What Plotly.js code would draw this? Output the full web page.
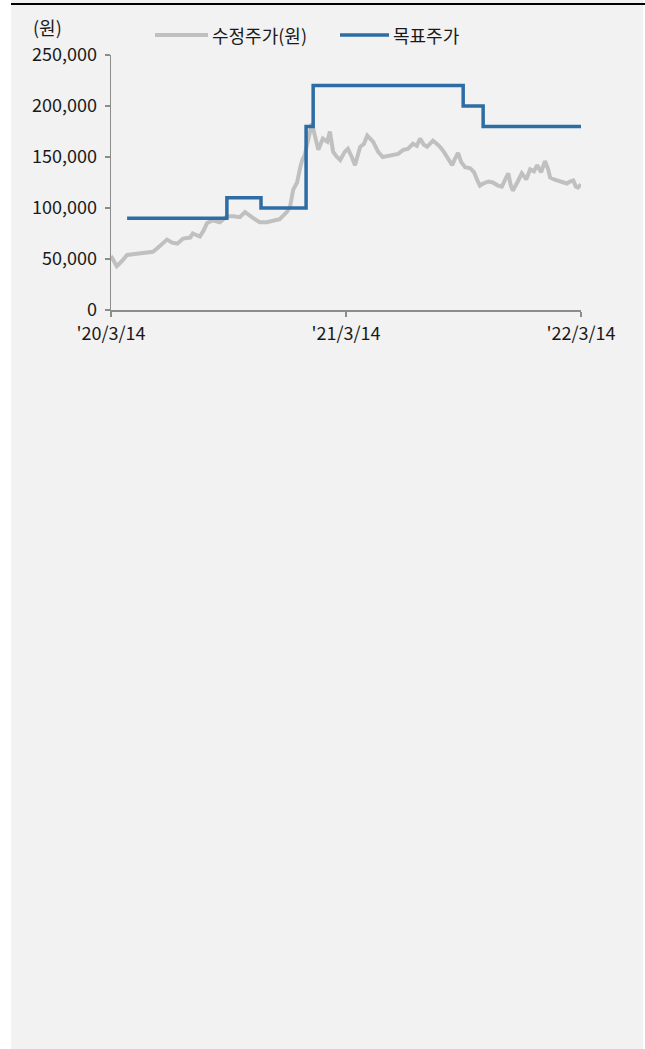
<!DOCTYPE html>
<html>
<head>
<meta charset="utf-8">
<script src="https://cdn.plot.ly/plotly-3.0.1.min.js"></script>
<style>html,body{margin:0;padding:0;background:#fff;}#chart{width:645px;height:1049px;}</style>
</head>
<body>
<div id="chart"></div>
<script>
// 수정주가(원)
const priceDates = ['2020-03-14','2020-03-23','2020-03-31','2020-04-08','2020-04-20','2020-05-06','2020-05-18','2020-05-24','2020-06-01','2020-06-09','2020-06-17','2020-06-25','2020-07-04','2020-07-15','2020-07-19','2020-07-30','2020-08-05','2020-08-10','2020-08-19','2020-08-30','2020-09-10','2020-09-20','2020-09-30','2020-10-08','2020-10-21','2020-10-31','2020-11-11','2020-11-21','2020-12-01','2020-12-12','2020-12-17','2020-12-22','2020-12-28','2021-01-02','2021-01-05','2021-01-09','2021-01-14','2021-01-20','2021-01-25','2021-01-30','2021-02-06','2021-02-13','2021-02-17','2021-02-22','2021-02-28','2021-03-05','2021-03-12','2021-03-17','2021-03-23','2021-03-28','2021-04-05','2021-04-11','2021-04-16','2021-04-20','2021-04-25','2021-05-03','2021-05-10','2021-05-18','2021-05-26','2021-06-03','2021-06-11','2021-06-18','2021-06-26','2021-07-02','2021-07-07','2021-07-13','2021-07-18','2021-07-27','2021-08-02','2021-08-07','2021-08-13','2021-08-18','2021-08-23','2021-08-26','2021-08-30','2021-09-04','2021-09-09','2021-09-15','2021-09-23','2021-09-29','2021-10-04','2021-10-08','2021-10-13','2021-10-21','2021-10-28','2021-11-05','2021-11-11','2021-11-16','2021-11-21','2021-11-25','2021-11-28','2021-12-05','2021-12-12','2021-12-19','2021-12-25','2021-12-31','2022-01-05','2022-01-11','2022-01-17','2022-01-22','2022-01-25','2022-01-31','2022-02-06','2022-02-12','2022-02-20','2022-02-25','2022-03-02','2022-03-06','2022-03-09','2022-03-14'];
const priceValues = [53000,43000,48000,54000,55000,56000,57000,60000,64000,69000,66000,65000,70000,71000,75000,72000,78000,85000,88000,86000,92000,92000,91000,96000,90000,86000,86000,88000,89000,96000,101000,118000,125000,140000,147000,152000,165000,183000,170000,157000,168000,165000,175000,155000,150000,147000,155000,158000,150000,142000,160000,163000,171000,168000,165000,155000,150000,151000,152000,153000,157000,158000,163000,161000,168000,162000,160000,166000,163000,160000,155000,150000,145000,142000,148000,154000,145000,140000,139000,135000,127000,122000,124000,126000,125000,122000,121000,128000,134000,122000,117000,125000,134000,128000,138000,136000,142000,135000,146000,138000,130000,128000,127000,126000,124000,126000,127000,121000,120000,123000];

// 목표주가
const targetDates = ['2020-04-08','2020-09-10','2020-11-02','2021-01-11','2021-01-22','2021-09-12','2021-10-13','2022-03-14'];
const targetValues = [90000,110000,100000,180000,220000,200000,180000,180000];

const tickDates = ['2020-03-14','2021-03-14','2022-03-14'];
const tickLabels = ["'20/3/14","'21/3/14","'22/3/14"];
const yTicks = [0,50000,100000,150000,200000,250000];
const seriesNames = ['수정주가(원)','목표주가'];
const seriesColors = ['#c0c0c0','#2e6ca4'];

const FONT = '"Noto Sans CJK KR","Noto Sans",sans-serif';
const FS = 18;
const TXT = '#1a1a1a';

const traces = [
  {x: priceDates, y: priceValues, type:'scatter', mode:'lines', name:seriesNames[0],
   line:{color:seriesColors[0], width:4}},
  {x: targetDates, y: targetValues, type:'scatter', mode:'lines', name:seriesNames[1],
   line:{color:seriesColors[1], width:3.5, shape:'hv'}}
];

const L = 111, R = 581, T = 55, B = 310;
const W = R - L, H = B - T;
const px = v => (v - L) / W;
const py = v => (B - v) / H;

const legY = 35;
const legendItems = [
  {x0:155, x1:208, tx:212, w:4},
  {x0:340, x1:389, tx:393, w:3.5}
];

const shapes = [
  {type:'rect', xref:'paper', yref:'paper', x0:px(0), x1:px(11), y0:py(1049), y1:py(0),
   fillcolor:'#ffffff', line:{width:0}, layer:'below'},
  {type:'rect', xref:'paper', yref:'paper', x0:px(643), x1:px(645), y0:py(1049), y1:py(0),
   fillcolor:'#ffffff', line:{width:0}, layer:'below'},
  {type:'rect', xref:'paper', yref:'paper', x0:px(11), x1:px(645), y0:py(5), y1:py(3),
   fillcolor:'#000000', line:{width:0}, layer:'above'}
];
const annotations = [
  {xref:'paper', yref:'paper', x:px(47), y:py(27), text:'(원)', showarrow:false,
   font:{family:FONT, size:FS, color:TXT}, xanchor:'center', yanchor:'middle'}
];
legendItems.forEach((it, i) => {
  shapes.push({type:'line', xref:'paper', yref:'paper', x0:px(it.x0), x1:px(it.x1), y0:py(legY), y1:py(legY),
               line:{color:seriesColors[i], width:it.w}, layer:'above'});
  annotations.push({xref:'paper', yref:'paper', x:px(it.tx), y:py(legY), text:seriesNames[i], showarrow:false,
                    font:{family:FONT, size:FS, color:TXT}, xanchor:'left', yanchor:'middle', xshift:-2});
});

const layout = {
  width:645, height:1049,
  margin:{l:L, r:645-R, t:T, b:1049-B, pad:0},
  paper_bgcolor:'#f2f2f2', plot_bgcolor:'#f2f2f2',
  font:{family:FONT, size:FS, color:TXT},
  showlegend:false,
  xaxis:{type:'date', range:['2020-03-14','2022-03-14'], tickvals:tickDates, ticktext:tickLabels,
         showgrid:false, zeroline:false, showline:true, linecolor:'#8c8c8c', linewidth:1.5,
         ticks:'outside', ticklen:5, tickcolor:'#8c8c8c', tickwidth:1.5, ticklabelstandoff:2,
         tickfont:{family:FONT, size:FS, color:TXT}, fixedrange:true},
  yaxis:{range:[0,250000], tickvals:yTicks, tickformat:',', showgrid:false, zeroline:false,
         showline:true, linecolor:'#8c8c8c', linewidth:1.5, ticks:'outside', ticklen:5,
         tickcolor:'#8c8c8c', tickwidth:1.5, ticklabelstandoff:4,
         tickfont:{family:FONT, size:FS, color:TXT}, fixedrange:true},
  annotations: annotations,
  shapes: shapes
};

Plotly.newPlot('chart', traces, layout, {displayModeBar:false, staticPlot:true});
</script>
</body>
</html>
